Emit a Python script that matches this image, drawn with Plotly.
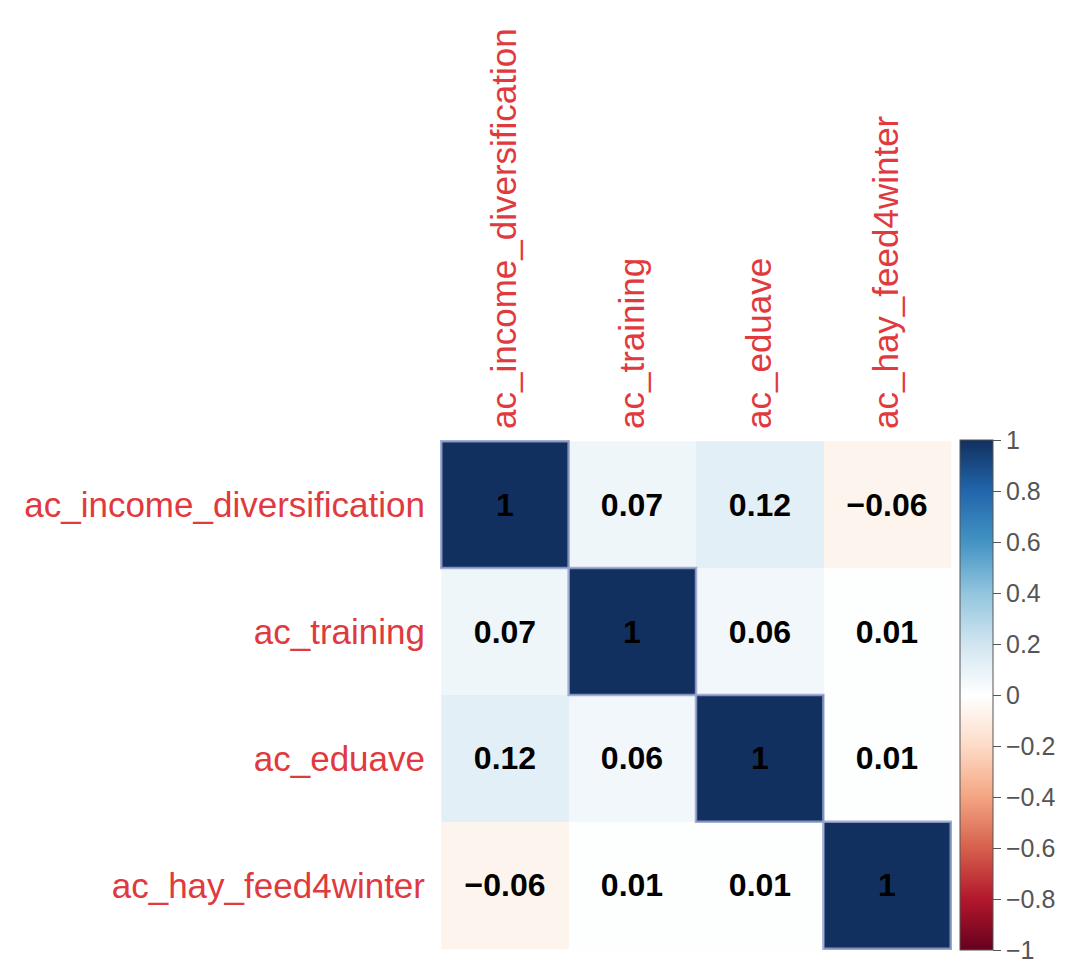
"""
Correlation matrix (corrplot style) rebuilt with Plotly
"""
import plotly.graph_objects as go

# variables and their pairwise correlations
variables = ['ac_income_diversification', 'ac_training', 'ac_eduave', 'ac_hay_feed4winter']
corr = [
    [1.00, 0.07, 0.12, -0.06],
    [0.07, 1.00, 0.06, 0.01],
    [0.12, 0.06, 1.00, 0.01],
    [-0.06, 0.01, 0.01, 1.00],
]
cbar_ticks = [1, 0.8, 0.6, 0.4, 0.2, 0, -0.2, -0.4, -0.6, -0.8, -1]
cbar_labels = ['1', '0.8', '0.6', '0.4', '0.2', '0',
               '\u22120.2', '\u22120.4', '\u22120.6', '\u22120.8', '\u22121']

# RdBu palette as used by corrplot (red = -1, blue = +1)
palette = ['#67001F', '#B2182B', '#D6604D', '#F4A582', '#FDDBC7', '#FFFFFF',
           '#D1E5F0', '#92C5DE', '#4393C3', '#2166AC', '#12305F']
colorscale = [[i / (len(palette) - 1), c] for i, c in enumerate(palette)]

LABEL_RED = '#E0393E'
FONT = 'Liberation Sans, Arial, sans-serif'


def fmt(v):
    if v == 1:
        return '1'
    return f'{v:.2f}'.replace('-', '\u2212')


cell_text = [[fmt(v) for v in row] for row in corr]

fig = go.Figure()

fig.add_trace(go.Heatmap(
    z=corr,
    x=variables,
    y=variables,
    zmin=-1, zmax=1,
    colorscale=colorscale,
    text=cell_text,
    texttemplate='<b>%{text}</b>',
    textfont=dict(family=FONT, size=32, color='black'),
    hoverinfo='skip',
    colorbar=dict(
        x=1.0156, xanchor='left', xpad=0,
        y=0.5, yanchor='middle', ypad=0,
        len=1, lenmode='fraction',
        thickness=33,
        outlinewidth=1, outlinecolor='#555555',
        tickmode='array',
        tickvals=cbar_ticks,
        ticktext=cbar_labels,
        ticks='outside', ticklen=8, tickcolor='#555555',
        tickfont=dict(family=FONT, size=25, color='#555555'),
    ),
))

# light frame round the diagonal cells
for i in range(len(variables)):
    fig.add_shape(
        type='rect',
        x0=i - 0.5, x1=i + 0.5, y0=i - 0.5, y1=i + 0.5,
        xref='x', yref='y',
        line=dict(color='rgba(150,162,204,0.85)', width=2.5),
        layer='above'
    )

# page body keeps its default 8px margin, so size the figure to the rest
fig.update_layout(
    width=1072, height=958,
    margin=dict(l=432, r=128, t=432, b=16),
    paper_bgcolor='white',
    plot_bgcolor='white',
    font=dict(family=FONT),
    xaxis=dict(
        side='top',
        tickangle=-90,
        tickfont=dict(family=FONT, size=35, color=LABEL_RED),
        ticklabelstandoff=10,
        showgrid=False, zeroline=False, showline=False, ticks='',
        automargin=False,
    ),
    yaxis=dict(
        autorange='reversed',
        tickfont=dict(family=FONT, size=35, color=LABEL_RED),
        ticklabelstandoff=14,
        showgrid=False, zeroline=False, showline=False, ticks='',
        automargin=False,
    ),
)

fig.write_html("out.html")
